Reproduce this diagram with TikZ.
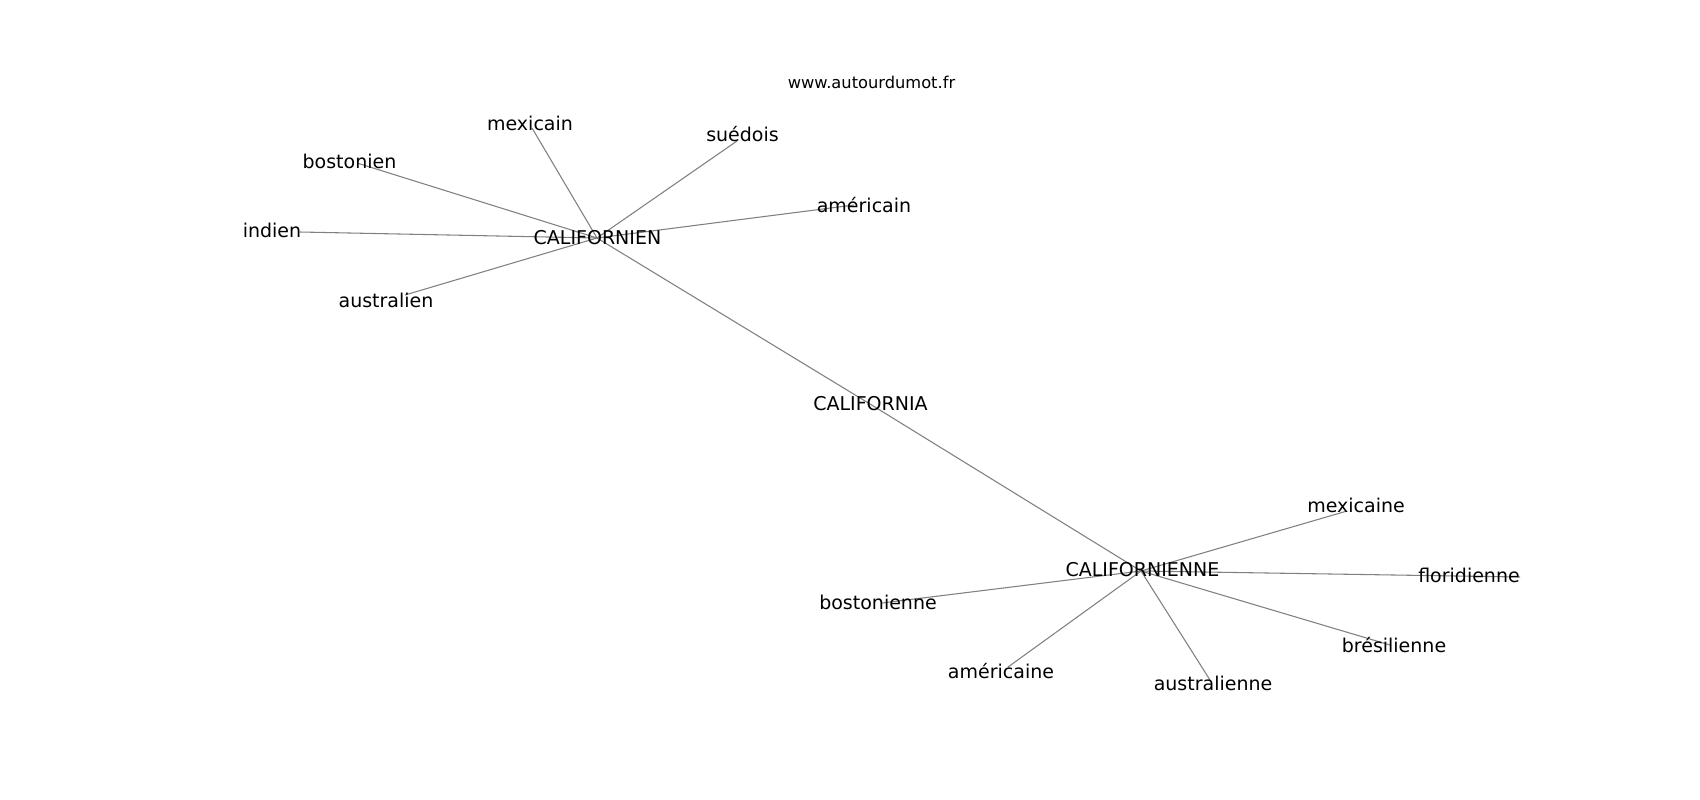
\documentclass[tikz,border=0pt]{standalone}
\usepackage{fontspec}
\setmainfont{DejaVu Sans}
\begin{document}
\begin{tikzpicture}[x=0.75pt,y=-0.75pt,
  edge/.style={draw={rgb,255:red,128;green,128;blue,128},line width=0.8pt},
  lbl/.style={anchor=base,inner sep=0pt,font=\fontsize{14.25}{16}\selectfont},
  ttl/.style={anchor=base,inner sep=0pt,font=\fontsize{12.2}{14}\selectfont}]
\useasboundingbox (0,0) rectangle (1700,800);
% node positions (edge ends)
\coordinate (cA) at (597,238);
\coordinate (mexicain) at (532,128);
\coordinate (suedois) at (737,141);
\coordinate (bostonien) at (357,163);
\coordinate (indien) at (300,232);
\coordinate (australien) at (405,295);
\coordinate (americain) at (854,205);
\coordinate (cal) at (870,404);
\coordinate (cB) at (1141,571);
\coordinate (mexicaine) at (1347,511);
\coordinate (floridienne) at (1520,577);
\coordinate (bresilienne) at (1390,645);
\coordinate (australienne) at (1210,680);
\coordinate (bostonienne) at (882,603);
\coordinate (americaine) at (1008,667);
% edges
\foreach \n in {mexicain,suedois,bostonien,indien,australien,americain,cal}
  \draw[edge] (cA) -- (\n);
\foreach \n in {cal,mexicaine,floridienne,bresilienne,australienne,bostonienne,americaine}
  \draw[edge] (cB) -- (\n);
% labels
\node[ttl] (title) at (871.5,88) {www.autourdumot.fr};
\node[lbl] (LcA) at (597.5,244) {CALIFORNIEN};
\node[lbl] (Lmexicain) at (530,130) {mexicain};
\node[lbl] (Lsuedois) at (742.5,141) {suédois};
\node[lbl] (Lbostonien) at (349.5,168) {bostonien};
\node[lbl] (Lindien) at (272,237) {indien};
\node[lbl] (Laustralien) at (386,307) {australien};
\node[lbl] (Lamericain) at (864,212) {américain};
\node[lbl] (Lcal) at (870.5,410) {CALIFORNIA};
\node[lbl] (LcB) at (1142.5,576) {CALIFORNIENNE};
\node[lbl] (Lmexicaine) at (1356,512) {mexicaine};
\node[lbl] (Lfloridienne) at (1469,582) {floridienne};
\node[lbl] (Lbresilienne) at (1394,652) {brésilienne};
\node[lbl] (Laustralienne) at (1213,690) {australienne};
\node[lbl] (Lbostonienne) at (878,609) {bostonienne};
\node[lbl] (Lamericaine) at (1001,678) {américaine};
\end{tikzpicture}
\end{document}
